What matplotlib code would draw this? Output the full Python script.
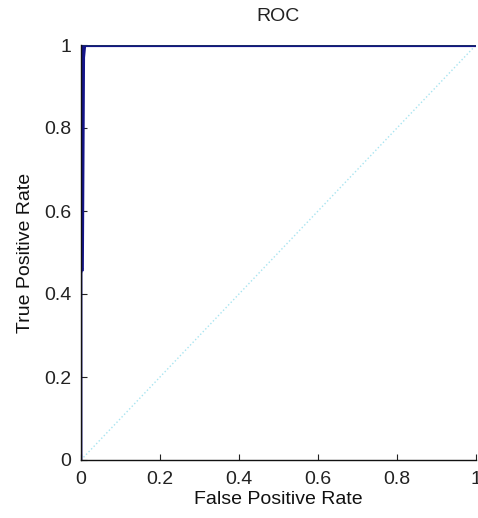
import matplotlib.pyplot as plt
import numpy as np

# ROC curve points
fpr = [0.0, 0.0, 0.002, 0.004, 0.005, 0.008, 0.012, 1.0]
tpr = [0.0, 0.45, 0.46, 0.80, 0.97, 1.0, 1.0, 1.0]
diag = [0.0, 1.0]
ticks = [0, 0.2, 0.4, 0.6, 0.8, 1]
tick_labels = ['0', '0.2', '0.4', '0.6', '0.8', '1']

plt.rcParams['font.family'] = ['Liberation Sans', 'DejaVu Sans']

fig = plt.figure(figsize=(4.78, 5.18), dpi=100)
ax = fig.add_axes([81 / 478, 58 / 518, 395 / 478, 415 / 518])

ax.plot(diag, diag, color='#a8e4f0', linestyle=':', linewidth=1.0)
ax.plot(fpr[:3], tpr[:3], color='#14148a', linewidth=2.0)
ax.plot(fpr[2:], tpr[2:], color='#14148a', linewidth=3.0, solid_joinstyle='miter')
ax.plot(fpr[5:], tpr[5:], color='#1a2a6a', linewidth=1.6)

ax.set_xlim(0, 1)
ax.set_ylim(0, 1)
ax.set_xticks(ticks)
ax.set_xticklabels(tick_labels)
ax.set_yticks(ticks)
ax.set_yticklabels(tick_labels)
ax.tick_params(direction='in', length=4, labelsize=14, colors='#222222', pad=8)
ax.tick_params(axis='y', pad=7)

for side in ('top', 'right'):
    ax.spines[side].set_visible(False)
for side in ('left', 'bottom'):
    ax.spines[side].set_color('#111111')
    ax.spines[side].set_linewidth(1.0)

ax.set_title('ROC', fontsize=14, color='#222222', pad=17)
ax.set_xlabel('False Positive Rate', fontsize=14, color='#111111', labelpad=2)
ax.set_ylabel('True Positive Rate', fontsize=14, color='#111111', labelpad=7)

fig.savefig('out.png', dpi=100)
